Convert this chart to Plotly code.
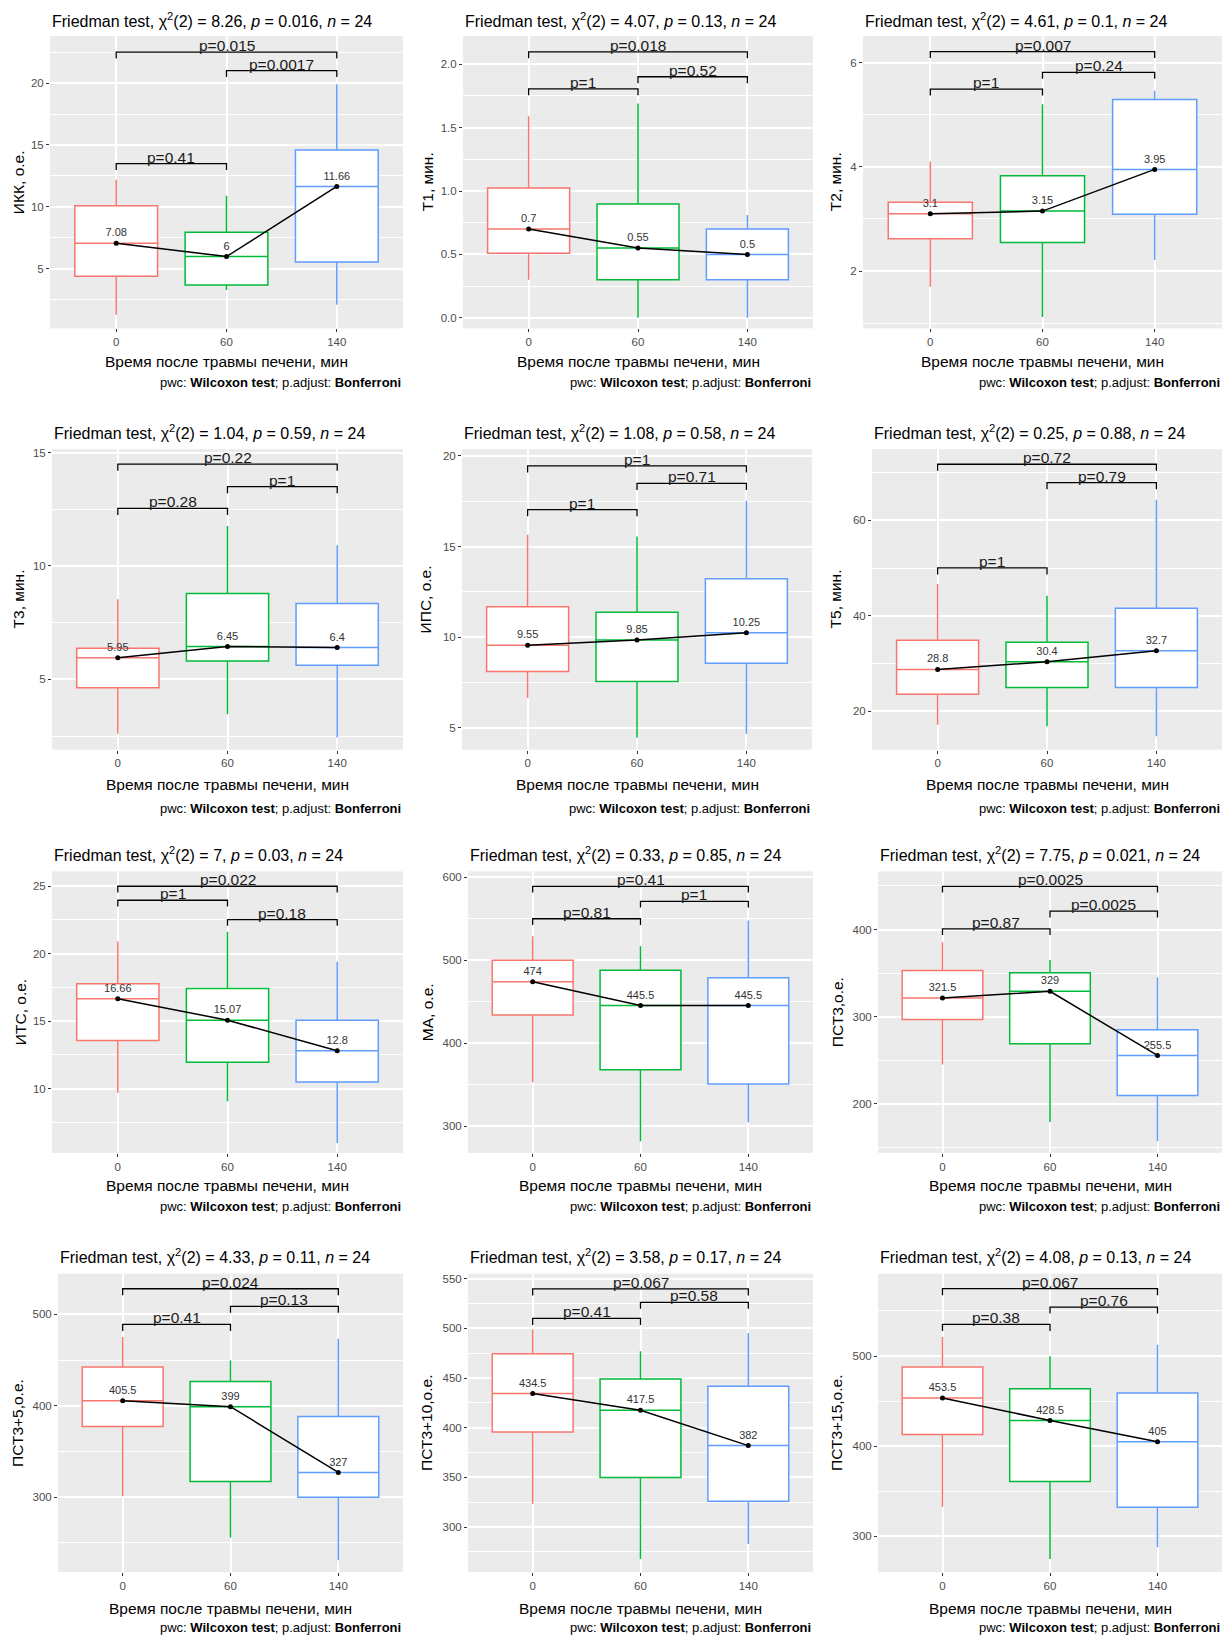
import plotly.graph_objects as go

# ---------------- data ----------------
time_labels = ["0", "60", "140"]
y_titles = ["ИКК, о.е.", "T1, мин.", "T2, мин.", "T3, мин.", "ИПС, о.е.", "T5, мин.",
            "ИТС, о.е.", "МА, о.е.", "ПСТ3,о.е.", "ПСТ3+5,о.е.", "ПСТ3+10,о.е.", "ПСТ3+15,о.е."]
chi2 = ["8.26", "4.07", "4.61", "1.04", "1.08", "0.25", "7", "0.33", "7.75", "4.33", "3.58", "4.08"]
friedman_p = ["0.016", "0.13", "0.1", "0.59", "0.58", "0.88", "0.03", "0.85", "0.021", "0.11", "0.17", "0.13"]
n_obs = 24

whisker_low = [
    [1.3, 3.3, 2.1],
    [0.30, 0.0, 0.0],
    [1.70, 1.12, 2.21],
    [2.6, 3.46, 2.43],
    [6.65, 4.45, 4.67],
    [17.2, 16.9, 14.8],
    [9.68, 9.06, 5.97],
    [353, 282, 305],
    [245, 179, 157],
    [301, 256, 231],
    [323.5, 268, 283],
    [333, 275, 288],
]
q1 = [
    [4.4, 3.7, 5.56],
    [0.51, 0.30, 0.30],
    [2.62, 2.55, 3.09],
    [4.63, 5.81, 5.62],
    [8.11, 7.56, 8.57],
    [23.6, 25.0, 25.0],
    [13.57, 11.95, 10.49],
    [434, 368, 351],
    [296.6, 268.8, 209.5],
    [377.4, 317, 300],
    [395.6, 350, 326],
    [413, 361, 332.3],
]
medians = [
    [7.08, 6, 11.66],
    [0.7, 0.55, 0.5],
    [3.1, 3.15, 3.95],
    [5.95, 6.45, 6.4],
    [9.55, 9.85, 10.25],
    [28.8, 30.4, 32.7],
    [16.66, 15.07, 12.8],
    [474, 445.5, 445.5],
    [321.5, 329, 255.5],
    [405.5, 399, 327],
    [434.5, 417.5, 382],
    [453.5, 428.5, 405],
]
q3 = [
    [10.1, 7.96, 14.6],
    [1.024, 0.897, 0.70],
    [3.32, 3.83, 5.29],
    [6.37, 8.78, 8.34],
    [11.68, 11.37, 13.23],
    [34.9, 34.5, 41.6],
    [17.77, 17.42, 15.07],
    [500, 488, 479],
    [353, 350.5, 285],
    [442.3, 426.6, 388.3],
    [474.5, 449, 441.6],
    [487.8, 463.6, 459],
]
whisker_high = [
    [12.2, 10.9, 19.9],
    [1.59, 1.69, 0.81],
    [4.1, 5.2, 5.46],
    [8.53, 11.76, 10.91],
    [15.65, 15.56, 17.53],
    [46.7, 44.2, 64.3],
    [20.9, 21.62, 19.4],
    [529, 517, 548],
    [385.5, 365, 344.8],
    [475.2, 449.6, 473.4],
    [498.7, 477, 495.3],
    [521, 499.6, 512.6],
]

# pairwise Wilcoxon p-values (Bonferroni) and bracket heights
p_0_60 = ["0.41", "1", "1", "0.28", "1", "1", "1", "0.81", "0.87", "0.41", "0.41", "0.38"]
p_60_140 = ["0.0017", "0.52", "0.24", "1", "0.71", "0.79", "0.18", "1", "0.0025", "0.13", "0.58", "0.76"]
p_0_140 = ["0.015", "0.018", "0.007", "0.22", "1", "0.72", "0.022", "0.41", "0.0025", "0.024", "0.067", "0.067"]
y_0_60 = [13.5, 1.807, 5.49, 12.54, 17.04, 50.07, 23.96, 550, 400.8, 489, 510, 535]
y_60_140 = [21.0, 1.902, 5.81, 13.5, 18.48, 67.9, 22.53, 571, 421, 508.8, 526.2, 554.3]
y_0_140 = [22.5, 2.098, 6.21, 14.49, 19.45, 71.75, 25.0, 589, 449.5, 528, 539.6, 574.7]

y_min = [0.2, -0.084, 0.9, 1.9, 3.8, 12.0, 5.23, 268, 143.6, 218, 254.7, 260.4]
y_max = [23.8, 2.224, 6.51, 15.15, 20.37, 74.9, 26.1, 607, 466.7, 544.5, 555, 591.3]
y_ticks = [
    [5, 10, 15, 20],
    [0.0, 0.5, 1.0, 1.5, 2.0],
    [2, 4, 6],
    [5, 10, 15],
    [5, 10, 15, 20],
    [20, 40, 60],
    [10, 15, 20, 25],
    [300, 400, 500, 600],
    [200, 300, 400],
    [300, 400, 500],
    [300, 350, 400, 450, 500, 550],
    [300, 400, 500],
]
y_tick_text = [
    ["5", "10", "15", "20"],
    ["0.0", "0.5", "1.0", "1.5", "2.0"],
    ["2", "4", "6"],
    ["5", "10", "15"],
    ["5", "10", "15", "20"],
    ["20", "40", "60"],
    ["10", "15", "20", "25"],
    ["300", "400", "500", "600"],
    ["200", "300", "400"],
    ["300", "400", "500"],
    ["300", "350", "400", "450", "500", "550"],
    ["300", "400", "500"],
]

# ---------------- style / layout ----------------
W, H = 1231, 1635
colors = ["#F8766D", "#00BA38", "#619CFF"]
FONT = "Liberation Sans, Arial, sans-serif"
# plot panel boxes in pixels: left, right, top, bottom
panel_px = [(50, 403, 33, 326), (463, 813, 33, 326), (863, 1222, 33, 326),
            (52, 403, 447, 748), (462, 812, 447, 748), (872, 1222, 447, 748),
            (52, 403, 870, 1152), (468, 813, 870, 1152), (878, 1222, 870, 1152),
            (58, 403, 1273, 1572), (468, 813, 1273, 1572), (878, 1222, 1273, 1572)]
ytitle_x = [18, 427, 835, 18, 425, 835, 20, 427, 837, 18, 427, 837]
title_y = [17, 17, 17, 430, 430, 430, 853, 853, 853, 1255, 1255, 1255]
xtitle_off = [33, 33, 33, 35, 35, 35, 33, 33, 33, 36, 36, 36]
caption_off = [54, 54, 54, 59, 59, 59, 54, 54, 54, 55, 55, 55]


def fx(px):
    return px / W


def fy(px):
    return 1 - px / H


fig = go.Figure()
annotations = []

for k in range(12):
    sfx = "" if k == 0 else str(k + 1)
    xa, ya = "x" + sfx, "y" + sfx
    l, r, t, b = panel_px[k]
    span = y_max[k] - y_min[k]

    for g in range(3):
        fig.add_trace(go.Box(
            x=[g], q1=[q1[k][g]], median=[medians[k][g]], q3=[q3[k][g]],
            lowerfence=[whisker_low[k][g]], upperfence=[whisker_high[k][g]],
            width=0.75, whiskerwidth=0, fillcolor="white", boxpoints=False,
            line=dict(color=colors[g], width=1.5), xaxis=xa, yaxis=ya,
            hoverinfo="skip", showlegend=False))

    fig.add_trace(go.Scatter(
        x=[0, 1, 2], y=medians[k], mode="lines+markers+text",
        text=[f"{v:g}" for v in medians[k]], textposition="top center",
        textfont=dict(size=11, color="#333333", family=FONT),
        line=dict(color="black", width=1.5), marker=dict(color="black", size=5),
        xaxis=xa, yaxis=ya, hoverinfo="skip", showlegend=False))

    tip = 0.022 * span
    for (a, c, yb, lab) in [(0, 1, y_0_60[k], p_0_60[k]),
                            (1, 2, y_60_140[k], p_60_140[k]),
                            (0, 2, y_0_140[k], p_0_140[k])]:
        fig.add_trace(go.Scatter(
            x=[a, a, c, c], y=[yb - tip, yb, yb, yb - tip], mode="lines",
            line=dict(color="black", width=1.3), xaxis=xa, yaxis=ya,
            hoverinfo="skip", showlegend=False))
        annotations.append(dict(
            x=(a + c) / 2, y=yb, xref=xa, yref=ya, text="p=" + lab,
            showarrow=False, yanchor="bottom", yshift=-4,
            font=dict(size=15.5, color="#1a1a1a", family=FONT)))

    ticks = y_ticks[k]
    step = ticks[1] - ticks[0]
    minor_vals = [ticks[0] - step / 2] + [v + step / 2 for v in ticks]

    fig.update_layout(**{
        "xaxis" + sfx: dict(
            domain=[fx(l), fx(r)], range=[-0.6, 2.6], anchor=ya,
            tickmode="array", tickvals=[0, 1, 2], ticktext=time_labels,
            showgrid=True, gridcolor="white", gridwidth=1.6, zeroline=False,
            ticks="outside", ticklen=3, tickcolor="#333333", tickwidth=1,
            tickfont=dict(size=11.5, color="#4D4D4D", family=FONT), showline=False),
        "yaxis" + sfx: dict(
            domain=[fy(b), fy(t)], range=[y_min[k], y_max[k]], anchor=xa,
            tickmode="array", tickvals=ticks, ticktext=y_tick_text[k],
            showgrid=True, gridcolor="white", gridwidth=1.6, zeroline=False,
            minor=dict(tickmode="array", tickvals=minor_vals, showgrid=True,
                       gridcolor="white", gridwidth=0.8, ticks=""),
            ticks="outside", ticklen=3, tickcolor="#333333", tickwidth=1,
            tickfont=dict(size=11.5, color="#4D4D4D", family=FONT), showline=False),
    })

    # panel title (left aligned with the panel)
    annotations.append(dict(
        x=fx(l), y=fy(title_y[k]), xref="paper", yref="paper", xanchor="left", yanchor="middle",
        text=f"Friedman test, χ<sup>2</sup>(2) = {chi2[k]}, <i>p</i> = {friedman_p[k]}, <i>n</i> = {n_obs}",
        showarrow=False, font=dict(size=16, color="black", family=FONT)))
    # x title
    annotations.append(dict(
        x=fx((l + r) / 2), y=fy(b + xtitle_off[k]), xref="paper", yref="paper",
        xanchor="center", yanchor="middle", text="Время после травмы печени, мин",
        showarrow=False, font=dict(size=15.5, color="black", family=FONT)))
    # caption
    annotations.append(dict(
        x=fx(r), y=fy(b + caption_off[k]), xref="paper", yref="paper",
        xanchor="right", yanchor="middle",
        text="pwc: <b>Wilcoxon test</b>; p.adjust: <b>Bonferroni</b>",
        showarrow=False, font=dict(size=13, color="black", family=FONT)))
    # y title
    annotations.append(dict(
        x=fx(ytitle_x[k]), y=fy((t + b) / 2), xref="paper", yref="paper",
        xanchor="center", yanchor="middle", textangle=-90, text=y_titles[k],
        showarrow=False, font=dict(size=15.5, color="black", family=FONT)))

fig.update_layout(
    width=W, height=H, margin=dict(l=0, r=0, t=0, b=0),
    paper_bgcolor="white", plot_bgcolor="#EBEBEB", showlegend=False,
    boxmode="overlay", annotations=annotations, font=dict(family=FONT))

fig.write_html("out.html", config={"displayModeBar": False},
               post_script="document.body.style.margin='0px';document.body.style.overflow='hidden';")
